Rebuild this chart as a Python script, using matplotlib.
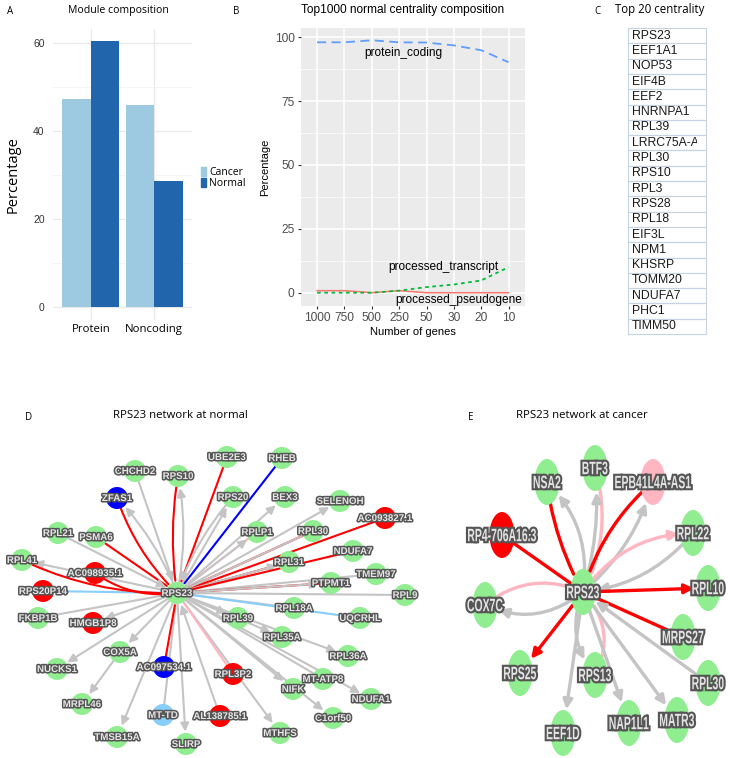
import numpy as np
import matplotlib
matplotlib.use("Agg")
import matplotlib.pyplot as plt
import matplotlib.patheffects as pe
from matplotlib.patches import Circle, Ellipse, Rectangle, FancyArrowPatch, Patch, PathPatch
from matplotlib.textpath import TextPath
from matplotlib.font_manager import FontProperties
from matplotlib.transforms import Affine2D, Bbox, TransformedBbox

# =========================
# Data
# =========================
# A: module composition
groups = ["Protein", "Noncoding"]
cancer_pct = [47.2, 45.8]
normal_pct = [60.4, 28.7]

# B: top1000 centrality composition
gene_counts = ["1000", "750", "500", "250", "50", "30", "20", "10"]
protein_coding = [98.0, 98.0, 98.8, 98.0, 97.9, 96.8, 94.9, 90.2]
processed_transcript = [0.0, 0.0, 0.0, 0.8, 2.2, 3.2, 4.8, 10.0]
processed_pseudogene = [0.8, 0.8, 0.0, 0.8, 0.0, 0.0, 0.0, 0.0]

# C: top 20 centrality
top20 = ["RPS23", "EEF1A1", "NOP53", "EIF4B", "EEF2", "HNRNPA1", "RPL39",
         "LRRC75A-AS1", "RPL30", "RPS10", "RPL3", "RPS28", "RPL18", "EIF3L",
         "NPM1", "KHSRP", "TOMM20", "NDUFA7", "PHC1", "TIMM50"]

# D: network at normal (layout units, hub at 0,0)
d_nodes = ["RPS23", "CHCHD2", "RPS10", "UBE2E3", "ZFAS1", "RPS20", "RHEB", "BEX3",
           "SELENOH", "AC093827.1", "RPL21", "PSMA6", "RPLP1", "RPL30", "NDUFA7",
           "RPL41", "AC098935.1", "RPL31", "TMEM97", "PTPMT1", "RPS20P14", "RPL9",
           "RPL18A", "RPL39", "FKBP1B", "UQCRHL", "HMGB1P8", "RPL35A", "COX5A",
           "RPL36A", "AC097534.1", "NUCKS1", "RPL3P2", "MT-ATP8", "NIFK", "NDUFA1",
           "MRPL46", "MT-TD", "AL138785.1", "C1orf50", "MTHFS", "TMSB15A", "SLIRP"]
d_x = [0, -42, 1, 50, -60, 56, 105, 108, 163, 208, -119, -81, 80, 136, 176,
       -155, -82, 112, 199, 154, -134, 228, 117, 61, -139, 183, -84, 105, -57,
       171, -13, -120, 56, 146, 116, 194, -95, -14, 43, 156, 103, -60, 9]
d_y = [0, 122, 117, 136, 95, 96, 135, 96, 92, 75, 60, 56, 61, 62, 42,
       33, 20, 31, 19, 10, 2, -2, -15, -25, -25, -25, -30, -44, -59,
       -63, -74, -76, -81, -86, -96, -106, -111, -122, -123, -125, -140, -144, -151]
d_type = {"AC093827.1": "lnc_up", "AC098935.1": "lnc_up", "RPS20P14": "lnc_up",
          "HMGB1P8": "lnc_up", "RPL3P2": "lnc_up", "AL138785.1": "lnc_up",
          "ZFAS1": "lnc_down", "AC097534.1": "lnc_down", "MT-TD": "mt"}
d_edges = [
    ("CHCHD2", "RPS23", "gray", True), ("RPS10", "RPS23", "red", False),
    ("RPS23", "RPS10", "gray", True), ("UBE2E3", "RPS23", "red", False),
    ("ZFAS1", "RPS23", "red", False), ("RPS23", "ZFAS1", "gray", True),
    ("RPS23", "RPS20", "gray", True), ("RPS20", "RPS23", "gray", True),
    ("RHEB", "RPS23", "blue", False), ("RPS23", "BEX3", "gray", True),
    ("RPS23", "SELENOH", "gray", True), ("AC093827.1", "RPS23", "red", False),
    ("RPLP1", "RPS23", "pink", False), ("RPS23", "RPLP1", "gray", True),
    ("RPL30", "RPS23", "red", False), ("RPS23", "RPL30", "gray", False),
    ("RPL31", "RPS23", "red", False), ("RPS23", "RPL31", "gray", True),
    ("NDUFA7", "RPS23", "red", False), ("TMEM97", "RPS23", "gray", False),
    ("PTPMT1", "RPS23", "red", False), ("RPS23", "PTPMT1", "gray", True),
    ("RPL9", "RPS23", "gray", False), ("RPL18A", "RPS23", "gray", False),
    ("UQCRHL", "RPS23", "skyblue", False), ("RPS23", "RPL39", "gray", True),
    ("RPS23", "RPL35A", "gray", True), ("RPS23", "RPL36A", "gray", True),
    ("MT-ATP8", "RPS23", "gray", False), ("RPS23", "NDUFA1", "gray", True),
    ("RPS23", "NIFK", "gray", True), ("RPS23", "C1orf50", "gray", True),
    ("RPS23", "MTHFS", "gray", True), ("RPL3P2", "RPS23", "pink", False),
    ("AL138785.1", "RPS23", "gray", True), ("RPS23", "SLIRP", "gray", True),
    ("MT-TD", "RPS23", "gray", False), ("AC097534.1", "RPS23", "red", False),
    ("RPS23", "TMSB15A", "gray", True), ("RPS23", "COX5A", "gray", True),
    ("COX5A", "MRPL46", "gray", True), ("RPS23", "NUCKS1", "gray", True),
    ("RPS23", "HMGB1P8", "gray", True), ("FKBP1B", "RPS23", "gray", False),
    ("RPS20P14", "RPS23", "skyblue", False), ("RPS23", "RPL41", "gray", True),
    ("RPL41", "RPS23", "red", False), ("AC098935.1", "RPS23", "red", False),
    ("PSMA6", "RPS23", "red", False), ("RPL21", "RPS23", "gray", True),
]
d_curve = {("RPS10", "RPS23"): 0.08, ("RPS23", "RPS10"): 0.1,
           ("ZFAS1", "RPS23"): 0.12, ("RPS23", "ZFAS1"): 0.1,
           ("RPL41", "RPS23"): 0.12, ("AC098935.1", "RPS23"): 0.2,
           ("RPS20", "RPS23"): 0.1}

# E: network at cancer
e_nodes = ["RPS23", "NSA2", "BTF3", "EPB41L4A-AS1", "RP4-706A16.3", "RPL22", "COX7C",
           "RPL10", "MRPS27", "RPS25", "RPS13", "RPL30", "MATR3", "NAP1L1", "EEF1D"]
e_x = [0, -36, 12, 70, -81, 110, -98, 125, 100, -63, 12, 125, 94, 46, -20]
e_y = [0, 110, 124, 110, 57, 59, -13, 4, -45, -81, -83, -91, -128, -131, -141]
e_type = {"RP4-706A16.3": "lnc_up", "EPB41L4A-AS1": "lnc_weak"}
e_edges = [
    ("NSA2", "RPS23", "red", False), ("RPS23", "NSA2", "gray", True),
    ("BTF3", "RPS23", "pink", False), ("RPS23", "BTF3", "gray", True),
    ("EPB41L4A-AS1", "RPS23", "red", False), ("RPS23", "EPB41L4A-AS1", "gray", True),
    ("RP4-706A16.3", "RPS23", "red", False), ("RPS23", "RPL22", "pink", True),
    ("RPL22", "RPS23", "gray", True), ("COX7C", "RPS23", "pink", False),
    ("RPS23", "COX7C", "gray", True), ("RPS23", "RPL10", "red", True),
    ("MRPS27", "RPS23", "red", False), ("RPS23", "RPS25", "red", True),
    ("RPS23", "RPS13", "gray", True), ("RPS13", "RPS23", "pink", False),
    ("RPL30", "RPS23", "gray", True), ("RPS23", "NAP1L1", "gray", True),
    ("RPS23", "MATR3", "gray", True), ("RPS23", "EEF1D", "gray", True),
]
e_curve = {("NSA2", "RPS23"): 0.1, ("RPS23", "NSA2"): 0.25,
           ("BTF3", "RPS23"): -0.2, ("RPS23", "BTF3"): 0.1,
           ("EPB41L4A-AS1", "RPS23"): 0.15, ("RPS23", "EPB41L4A-AS1"): 0.15,
           ("RPS23", "RPL22"): -0.25, ("RPL22", "RPS23"): -0.2,
           ("COX7C", "RPS23"): -0.3, ("RPS23", "COX7C"): -0.3,
           ("RPS23", "RPS13"): 0.3, ("RPS13", "RPS23"): 0.35}

# =========================
# Styles
# =========================
node_colors = {"gene": "#90ee90", "lnc_up": "#ff0000", "lnc_down": "#0000ff",
               "mt": "#87cefa", "lnc_weak": "#ffb6c1"}
edge_colors = {"red": "#ff0000", "gray": "#c4c4c4", "blue": "#0000ff",
               "skyblue": "#87cefa", "pink": "#ffb6c1"}
myriad = ["Open Sans", "DejaVu Sans"]
arial = ["Liberation Sans", "DejaVu Sans"]

W, H = 734, 758
fig = plt.figure(figsize=(W / 100, H / 100), dpi=100)


def px_axes(x0, y0, x1, y1):
    return fig.add_axes([x0 / W, 1 - y1 / H, (x1 - x0) / W, (y1 - y0) / H])


def px_text(x, y, s, **kw):
    fig.text(x / W, 1 - y / H, s, **kw)


# =========================
# Panel A
# =========================
px_text(7, 11, "A", fontsize=7, family=myriad, va="center")
px_text(118, 11, "Module composition", fontsize=7.6, family=myriad, ha="center", va="center")
axA = px_axes(53, 29, 192, 320)
xa = np.arange(1, len(groups) + 1)
axA.bar(xa - 0.225, cancer_pct, 0.45, color="#9ecae1", zorder=2)
axA.bar(xa + 0.225, normal_pct, 0.45, color="#2166ac", zorder=2)
axA.set_xlim(0.4, 2.6)
axA.set_ylim(-3, 63.2)
axA.set_yticks([0, 20, 40, 60])
axA.set_yticks([10, 30, 50], minor=True)
axA.set_xticks(xa)
axA.set_xticklabels(groups, family=myriad, fontsize=8.2)
axA.set_yticklabels(["0", "20", "40", "60"], family=arial, fontsize=7.5, color="#333333")
axA.tick_params(which="both", length=0, pad=6)
axA.tick_params(axis="x", pad=3)
axA.grid(which="major", color="#e8e8e8", lw=0.9, zorder=0)
axA.grid(which="minor", axis="y", color="#f2f2f2", lw=0.6, zorder=0)
for s in axA.spines.values():
    s.set_visible(False)
axA.set_ylabel("Percentage", family=myriad, fontsize=10.5, va="center")
axA.yaxis.set_label_coords(-0.29, 0.5)
fig.legend(handles=[Patch(color="#9ecae1", label="Cancer"), Patch(color="#2166ac", label="Normal")],
           loc="center left", bbox_to_anchor=(196 / W, 1 - 178 / H), frameon=False,
           prop={"family": myriad, "size": 7.5}, handlelength=0.5, handleheight=1.0,
           handletextpad=0.25, labelspacing=0.0, borderpad=0)

# =========================
# Panel B
# =========================
px_text(233, 11, "B", fontsize=7, family=myriad, va="center")
px_text(403, 10, "Top1000 normal centrality composition", fontsize=8.6, family=arial,
        ha="center", va="center")
axB = px_axes(300.7, 28, 525, 306)
axB.set_facecolor("#ebebeb")
xb = np.arange(1, len(gene_counts) + 1)
axB.plot(xb, processed_pseudogene, color="#f8766d", lw=1.1, zorder=3)
axB.plot(xb, processed_transcript, color="#00ba38", lw=1.3, ls=(0, (2, 2)), zorder=3)
axB.plot(xb, protein_coding, color="#619cff", lw=1.3, ls=(0, (5, 3)), zorder=3)
axB.set_xlim(0.4, 8.6)
axB.set_ylim(-5.2, 103.6)
axB.set_xticks(xb)
axB.set_xticklabels(gene_counts)
axB.set_yticks([0, 25, 50, 75, 100])
axB.set_yticks([12.5, 37.5, 62.5, 87.5], minor=True)
axB.tick_params(axis="both", which="major", length=2.5, color="#333333", labelsize=8.6,
                labelcolor="#4d4d4d", pad=2)
axB.tick_params(which="minor", length=0)
for lab in axB.get_xticklabels() + axB.get_yticklabels():
    lab.set_family(arial)
axB.grid(which="major", color="white", lw=1.1, zorder=0)
axB.grid(which="minor", axis="y", color="white", lw=0.5, zorder=0)
axB.set_axisbelow(True)
for s in axB.spines.values():
    s.set_visible(False)
axB.set_xlabel("Number of genes", family=arial, fontsize=8, labelpad=2)
axB.set_ylabel("Percentage", family=arial, fontsize=8, labelpad=3)
axB.text(4.14, 93.8, "protein_coding", family=arial, fontsize=8.6, ha="center", va="center")
axB.text(7.63, 10.0, "processed_transcript", family=arial, fontsize=8.6, ha="right", va="center")
axB.text(6.16, -2.9, "processed_pseudogene", family=arial, fontsize=8.6, ha="center", va="center")

# =========================
# Panel C
# =========================
px_text(594, 11, "C", fontsize=7, family=myriad, va="center")
px_text(660, 10, "Top 20 centrality", fontsize=8.3, family=myriad, ha="center", va="center")
axC = px_axes(628, 28, 706, 28 + 15.3 * len(top20))
axC.set_xlim(0, 1)
axC.set_ylim(len(top20), 0)
axC.axis("off")
for i, name in enumerate(top20):
    cell = Rectangle((0, i), 1, 1, fill=False, ec="#c5d3e3", lw=0.8, clip_on=False)
    axC.add_patch(cell)
    t = axC.text(0.05, i + 0.5, name, family=arial, fontsize=8.8, color="#1a1a1a",
                 va="center", ha="left", clip_on=True)
    t.set_clip_path(None)
    t.set_clip_box(TransformedBbox(Bbox([[0, i], [0.88, i + 1]]), axC.transData))

# =========================
# Panels D and E: networks
# =========================
label_fx = [pe.withStroke(linewidth=2.2, foreground="#555555")]
bold_font = FontProperties(family="Liberation Sans", weight="bold")


def narrow_label(ax, x, y, s, size, sx):
    # condensed bold label drawn as a path so it can be squeezed horizontally
    tp = TextPath((0, 0), s, size=size, prop=bold_font)
    ext = tp.get_extents()
    tr = Affine2D().translate(-(ext.x0 + ext.x1) / 2, -(ext.y0 + ext.y1) / 2).scale(sx, 1).translate(x, y)
    patch = PathPatch(tr.transform_path(tp), fc="#e4e4e4", ec="none", zorder=3, clip_on=False,
                      path_effects=[pe.Stroke(linewidth=3, foreground="#555555"), pe.Normal()])
    ax.add_patch(patch)


def draw_network(ax, names, xs, ys, types, edges, curves, node_shape, lw, arrow_scale):
    patches = {}
    for name, x, y in zip(names, xs, ys):
        col = node_colors[types.get(name, "gene")]
        if node_shape == "circle":
            p = Circle((x, y), 11, color=col, lw=0, zorder=2, clip_on=False)
        else:
            p = Ellipse((x, y), 25, 46, color=col, lw=0, zorder=2, clip_on=False)
        ax.add_patch(p)
        patches[name] = p
    for src, dst, kind, arrow in edges:
        a, b = patches[src], patches[dst]
        rad = curves.get((src, dst), 0.0)
        style = "-|>,head_length=0.7,head_width=0.35" if arrow else "-"
        arr = FancyArrowPatch(a.center, b.center, patchA=a, patchB=b,
                              arrowstyle=style, mutation_scale=arrow_scale,
                              connectionstyle=f"arc3,rad={rad}",
                              color=edge_colors[kind], lw=lw, shrinkA=0, shrinkB=1,
                              zorder=1, clip_on=False)
        ax.add_patch(arr)


px_text(25, 417, "D", fontsize=7, family=myriad, va="center")
px_text(180, 416, "RPS23 network at normal", fontsize=8.2, family=myriad, ha="center", va="center")
axD = px_axes(0, 430, 470, 758)
axD.set_xlim(-177, 293)
axD.set_ylim(-165, 163)
axD.axis("off")
draw_network(axD, d_nodes, d_x, d_y, d_type, d_edges, d_curve, "circle", 1.5, 7)
for name, x, y in zip(d_nodes, d_x, d_y):
    axD.text(x, y, name, ha="center", va="center", zorder=3, color="#e6e6e6",
             path_effects=label_fx, family=arial, fontsize=7, fontweight="bold")

px_text(468, 417, "E", fontsize=7, family=myriad, va="center")
px_text(582, 416, "RPS23 network at cancer", fontsize=8.2, family=myriad, ha="center", va="center")
axE = px_axes(470, 430, 734, 758)
axE.set_xlim(-113, 151)
axE.set_ylim(-166, 162)
axE.axis("off")
draw_network(axE, e_nodes, e_x, e_y, e_type, e_edges, e_curve, "ellipse", 2.4, 8)
for name, x, y in zip(e_nodes, e_x, e_y):
    narrow_label(axE, x, y, name, 18, 0.58)

fig.savefig("out.png", dpi=100)
